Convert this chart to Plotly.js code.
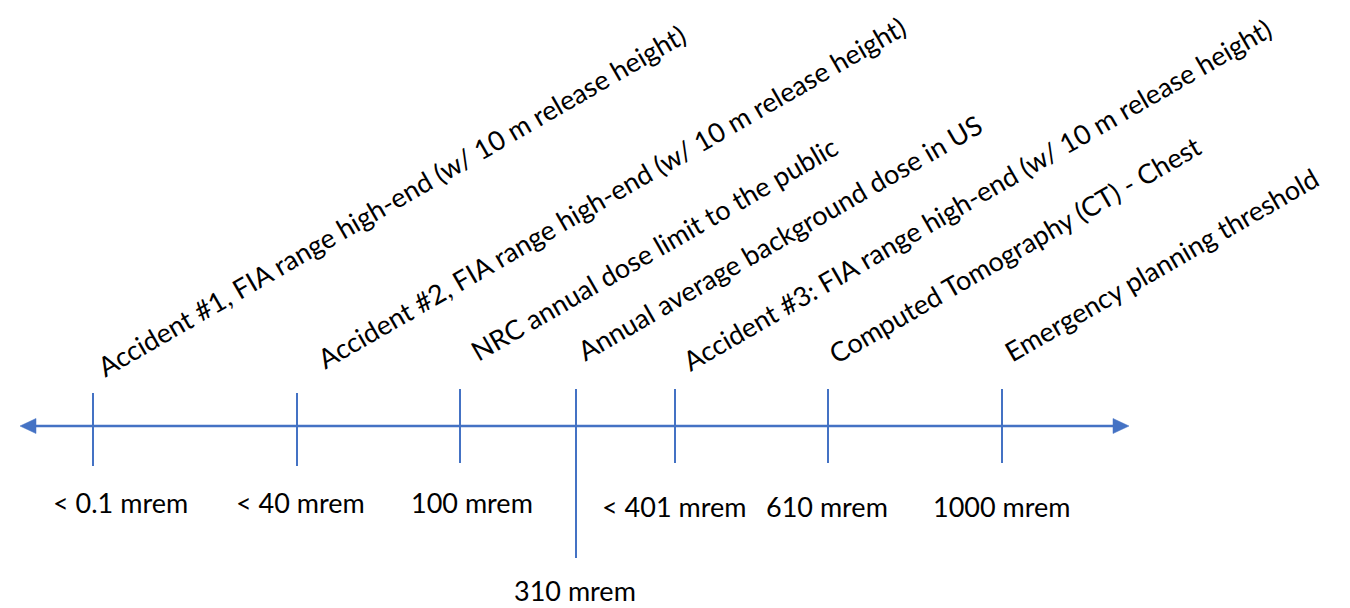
<!DOCTYPE html>
<html>
<head>
<meta charset="utf-8">
<script src="https://cdn.plot.ly/plotly-3.0.1.min.js"></script>
<style>
  html, body { margin: 0; padding: 0; background: #ffffff; }
  #chart { width: 1350px; height: 608px; }
</style>
</head>
<body>
<div id="chart"></div>
<script>
// ---- data ----
const events = [
  "Accident #1, FIA range high-end (w/ 10 m release height)",
  "Accident #2, FIA range high-end (w/ 10 m release height)",
  "NRC annual dose limit to the public",
  "Annual average background dose in US",
  "Accident #3: FIA range high-end (w/ 10 m release height)",
  "Computed Tomography (CT) - Chest",
  "Emergency planning threshold"
];
const doses = ["< 0.1 mrem", "< 40 mrem", "100 mrem", "310 mrem", "< 401 mrem", "610 mrem", "1000 mrem"];
const eventPos = [93, 297, 460, 576, 675, 828, 1002];   // position along the (unitless) scale

// ---- layout helpers (pixel-unit axes) ----
const W = 1350, H = 608;
const lineY = 426;
const lineStart = 20, lineEnd = 1129;
const arrowLen = 16, arrowHalf = 7.5;
const blue = "#4472C4";
const FONT = "Lato, 'Open Sans', sans-serif";
const fs = 27;
const angle = 30;

const tickTop = [393, 393, 389, 389, 389, 389, 389];
const tickBottom = [466, 466, 463, 558, 463, 463, 463];
const labelDx = [12, 28, 18, 9, 15, 8, 10];
const labelBaseY = [378, 370, 362, 362, 372, 365, 363];
const doseDx = [27, 3, 12, -1, -1, -1, 0];
const doseY = [502, 502, 502, 590, 506, 506, 506];

const traces = [];
// main line
traces.push({
  x: [lineStart + arrowLen - 1, lineEnd - arrowLen + 1], y: [lineY, lineY],
  mode: "lines", line: { color: blue, width: 2.5 }, hoverinfo: "skip", showlegend: false
});
// arrowheads
traces.push({
  x: [lineStart, lineStart + arrowLen, lineStart + arrowLen, lineStart],
  y: [lineY, lineY - arrowHalf, lineY + arrowHalf, lineY],
  mode: "lines", fill: "toself", fillcolor: blue, line: { color: blue, width: 0.5 },
  hoverinfo: "skip", showlegend: false
});
traces.push({
  x: [lineEnd, lineEnd - arrowLen, lineEnd - arrowLen, lineEnd],
  y: [lineY, lineY - arrowHalf, lineY + arrowHalf, lineY],
  mode: "lines", fill: "toself", fillcolor: blue, line: { color: blue, width: 0.5 },
  hoverinfo: "skip", showlegend: false
});
// ticks
const tx = [], ty = [];
eventPos.forEach((p, i) => { tx.push(p, p, null); ty.push(tickTop[i], tickBottom[i], null); });
traces.push({
  x: tx, y: ty, mode: "lines", line: { color: blue, width: 2 },
  hoverinfo: "skip", showlegend: false
});

// annotations
const annotations = [];
const rad = angle * Math.PI / 180;
const u = [Math.cos(rad), -Math.sin(rad)];
const d = [Math.sin(rad), Math.cos(rad)];
const pad = 2;
const boxH = 1.2 * fs + 2 * pad;
events.forEach((t, i) => {
  const sx = eventPos[i] + labelDx[i], sy = labelBaseY[i];
  const down = pad + 0.213 * fs;
  const blx = sx - pad * u[0] + down * d[0];
  const bly = sy - pad * u[1] + down * d[1];
  annotations.push({
    x: blx - 0.5 * boxH, y: bly, xref: "x", yref: "y",
    text: t, showarrow: false, textangle: -angle,
    xanchor: "left", yanchor: "bottom",
    font: { family: FONT, size: fs, color: "#000000" }
  });
});
doses.forEach((t, i) => {
  annotations.push({
    x: eventPos[i] + doseDx[i], y: doseY[i], xref: "x", yref: "y",
    text: t, showarrow: false, xanchor: "center", yanchor: "middle",
    borderpad: 0, borderwidth: 0,
    font: { family: FONT, size: fs, color: "#000000" }
  });
});

const layout = {
  width: W, height: H,
  margin: { l: 0, r: 0, t: 0, b: 0 },
  paper_bgcolor: "#ffffff", plot_bgcolor: "#ffffff",
  xaxis: { range: [0, W], visible: false, fixedrange: true },
  yaxis: { range: [H, 0], visible: false, fixedrange: true },
  annotations: annotations,
  showlegend: false
};

Plotly.newPlot("chart", traces, layout, { displayModeBar: false, staticPlot: true });
</script>
</body>
</html>
